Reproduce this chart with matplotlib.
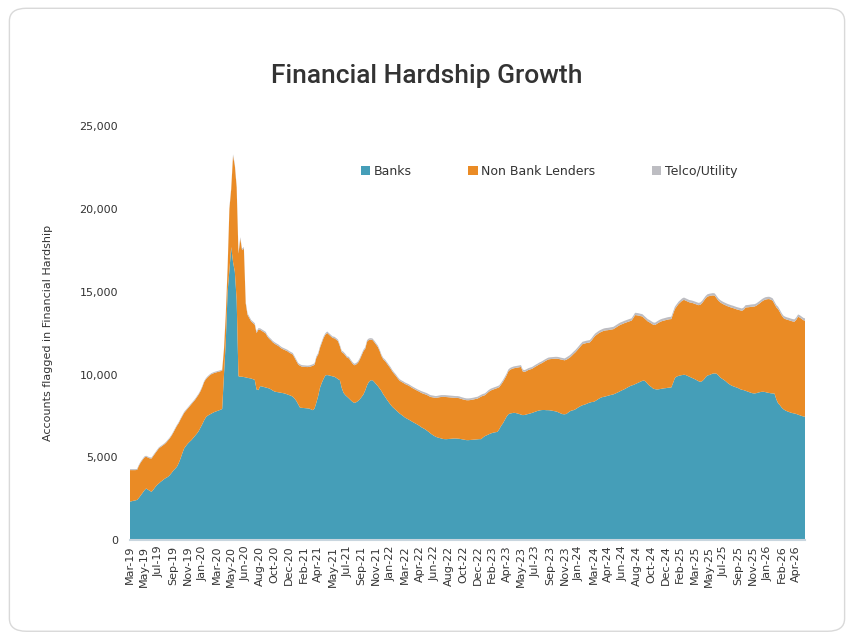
import matplotlib
matplotlib.use("Agg")
import matplotlib.pyplot as plt
from matplotlib.patches import FancyBboxPatch, Patch
import matplotlib.ticker as mticker
import numpy as np

# weekly values, Mar-2019 .. May-2026
banks = [
    2330, 2350, 2380, 2400, 2430, 2550, 2700, 2850, 3000, 3120,
    3050, 2980, 2920, 3050, 3200, 3330, 3420, 3520, 3600, 3690,
    3760, 3820, 3920, 4050, 4200, 4310, 4430, 4650, 4930, 5250,
    5540, 5690, 5830, 5940, 6040, 6170, 6300, 6430, 6580, 6790,
    7000, 7230, 7420, 7520, 7580, 7640, 7700, 7750, 7790, 7830,
    7870, 7920, 10000, 12000, 15000, 16300, 17700, 16800, 16200, 14500,
    9900, 9870, 9870, 9850, 9830, 9800, 9780, 9760, 9720, 9680,
    9100, 9060, 9300, 9280, 9250, 9220, 9190, 9160, 9100, 9030,
    8970, 8950, 8930, 8910, 8890, 8870, 8840, 8800, 8760, 8720,
    8660, 8550, 8400, 8200, 8000, 7990, 7980, 7970, 7960, 7950,
    7900, 7850, 7950, 8300, 8700, 9200, 9500, 9750, 9950, 9970,
    9950, 9920, 9890, 9870, 9800, 9720, 9660, 9200, 8900, 8760,
    8660, 8560, 8450, 8350, 8290, 8330, 8400, 8500, 8650, 8800,
    9050, 9350, 9560, 9650, 9660, 9550, 9420, 9300, 9150, 9000,
    8800, 8650, 8480, 8330, 8180, 8050, 7950, 7850, 7750, 7650,
    7570, 7490, 7400, 7340, 7280, 7220, 7150, 7090, 7030, 6970,
    6900, 6820, 6760, 6700, 6620, 6540, 6450, 6370, 6300, 6240,
    6200, 6170, 6140, 6110, 6100, 6100, 6110, 6120, 6130, 6140,
    6140, 6130, 6120, 6100, 6080, 6060, 6040, 6040, 6050, 6060,
    6070, 6080, 6090, 6100, 6100, 6200, 6280, 6330, 6380, 6430,
    6470, 6500, 6520, 6540, 6700, 6900, 7050, 7250, 7450, 7600,
    7650, 7670, 7690, 7680, 7650, 7620, 7580, 7550, 7560, 7590,
    7620, 7650, 7680, 7720, 7760, 7800, 7830, 7850, 7860, 7860,
    7850, 7850, 7840, 7820, 7800, 7780, 7750, 7700, 7650, 7610,
    7600, 7620, 7700, 7780, 7830, 7850, 7900, 7970, 8040, 8100,
    8150, 8180, 8220, 8270, 8310, 8340, 8350, 8400, 8470, 8540,
    8600, 8640, 8660, 8690, 8720, 8750, 8780, 8800, 8850, 8900,
    8950, 9010, 9060, 9110, 9170, 9230, 9290, 9340, 9370, 9420,
    9470, 9520, 9570, 9620, 9640, 9560, 9430, 9320, 9250, 9150,
    9120, 9100, 9110, 9130, 9150, 9170, 9180, 9200, 9210, 9220,
    9500, 9800, 9880, 9920, 9950, 9970, 9990, 9970, 9920, 9870,
    9820, 9770, 9720, 9660, 9600, 9560, 9600, 9700, 9850, 9950,
    9970, 10020, 10060, 10070, 10050, 9950, 9830, 9750, 9680, 9600,
    9500, 9420, 9350, 9300, 9260, 9220, 9180, 9120, 9080, 9060,
    9020, 8980, 8940, 8900, 8870, 8860, 8880, 8910, 8940, 8960,
    8960, 8940, 8910, 8890, 8870, 8860, 8850, 8500, 8260, 8150,
    8000, 7900, 7830, 7780, 7740, 7700, 7670, 7650, 7620, 7580,
    7540, 7500, 7470, 7450,
]

non_bank = [
    1900, 1880, 1850, 1830, 1810, 1940, 1990, 1990, 1990, 1920,
    1940, 1960, 2010, 2040, 2040, 2060, 2120, 2100, 2100, 2090,
    2120, 2190, 2220, 2250, 2290, 2390, 2470, 2420, 2360, 2240,
    2150, 2130, 2120, 2140, 2170, 2170, 2170, 2200, 2210, 2200,
    2240, 2310, 2300, 2320, 2360, 2380, 2370, 2360, 2350, 2340,
    2330, 2320, 1510, 1610, 1410, 3710, 3510, 6410, 6410, 6810,
    7410, 8340, 7640, 7760, 4480, 3810, 3630, 3450, 3390, 3330,
    3410, 3650, 3400, 3350, 3310, 3270, 3100, 3000, 2960, 2910,
    2890, 2840, 2800, 2730, 2670, 2640, 2620, 2610, 2570, 2550,
    2550, 2460, 2410, 2410, 2530, 2490, 2490, 2490, 2490, 2510,
    2590, 2680, 2640, 2710, 2510, 2410, 2410, 2460, 2460, 2540,
    2460, 2390, 2320, 2320, 2310, 2290, 2050, 2160, 2380, 2400,
    2350, 2420, 2360, 2310, 2270, 2280, 2310, 2410, 2510, 2610,
    2510, 2640, 2530, 2460, 2430, 2410, 2390, 2360, 2260, 2110,
    2110, 2160, 2180, 2180, 2180, 2130, 2090, 2060, 2010, 1980,
    1990, 2010, 2030, 2040, 2050, 2040, 2040, 2040, 2040, 2040,
    2060, 2070, 2090, 2110, 2150, 2170, 2200, 2260, 2310, 2350,
    2410, 2460, 2510, 2540, 2550, 2540, 2520, 2500, 2480, 2460,
    2450, 2460, 2450, 2430, 2420, 2410, 2410, 2410, 2410, 2420,
    2430, 2450, 2460, 2510, 2570, 2520, 2470, 2510, 2560, 2590,
    2600, 2610, 2630, 2650, 2540, 2490, 2500, 2490, 2490, 2590,
    2640, 2670, 2690, 2720, 2770, 2820, 2880, 2640, 2600, 2620,
    2650, 2660, 2660, 2690, 2720, 2740, 2780, 2810, 2860, 2930,
    3000, 3060, 3090, 3120, 3150, 3180, 3210, 3240, 3260, 3280,
    3260, 3270, 3260, 3250, 3300, 3390, 3440, 3490, 3550, 3620,
    3690, 3690, 3680, 3650, 3630, 3720, 3860, 3940, 3950, 3960,
    3960, 3970, 3990, 3980, 3960, 3950, 3940, 3940, 3960, 3980,
    4000, 4000, 3990, 3990, 3970, 3950, 3930, 3910, 4040, 4170,
    4110, 4040, 3960, 3890, 3770, 3750, 3780, 3830, 3830, 3860,
    3870, 3960, 4020, 4060, 4080, 4090, 4110, 4120, 4130, 4130,
    4160, 4160, 4230, 4340, 4410, 4490, 4520, 4490, 4490, 4490,
    4520, 4540, 4550, 4570, 4590, 4650, 4710, 4760, 4760, 4760,
    4770, 4740, 4720, 4690, 4560, 4510, 4530, 4540, 4550, 4580,
    4630, 4670, 4700, 4720, 4720, 4720, 4730, 4760, 4770, 4850,
    5030, 5080, 5130, 5190, 5230, 5250, 5280, 5330, 5380, 5450,
    5520, 5590, 5640, 5670, 5650, 5600, 5410, 5560, 5690, 5610,
    5560, 5510, 5520, 5530, 5540, 5540, 5540, 5540, 5690, 5910,
    5900, 5860, 5810, 5800,
]

telco = [
    60, 60, 60, 60, 60, 60, 60, 60, 60, 60,
    60, 60, 60, 60, 60, 60, 60, 60, 60, 60,
    60, 60, 60, 60, 60, 60, 60, 60, 60, 60,
    60, 60, 60, 60, 60, 60, 60, 60, 60, 60,
    60, 60, 60, 60, 60, 60, 60, 60, 60, 60,
    60, 60, 90, 90, 90, 90, 90, 90, 90, 90,
    90, 90, 90, 90, 90, 90, 90, 90, 90, 90,
    90, 90, 90, 90, 90, 90, 90, 90, 90, 90,
    90, 90, 90, 90, 90, 90, 90, 90, 90, 90,
    90, 90, 90, 90, 90, 90, 90, 90, 90, 90,
    90, 90, 90, 90, 90, 90, 90, 90, 90, 90,
    90, 90, 90, 90, 90, 90, 90, 90, 90, 90,
    90, 90, 90, 90, 90, 90, 90, 90, 90, 90,
    90, 90, 90, 90, 90, 90, 90, 90, 90, 90,
    90, 90, 90, 90, 90, 90, 90, 90, 90, 90,
    90, 90, 90, 90, 90, 90, 90, 90, 90, 90,
    90, 110, 110, 110, 110, 110, 110, 110, 110, 110,
    110, 110, 110, 110, 110, 110, 110, 110, 110, 110,
    110, 110, 110, 110, 110, 110, 110, 110, 110, 110,
    110, 110, 110, 110, 110, 110, 110, 110, 110, 110,
    110, 110, 110, 110, 110, 110, 110, 110, 110, 110,
    110, 110, 110, 110, 110, 110, 110, 110, 110, 110,
    110, 110, 110, 110, 110, 110, 110, 110, 110, 110,
    110, 110, 110, 110, 110, 110, 110, 110, 110, 110,
    110, 140, 140, 140, 140, 140, 140, 140, 140, 140,
    140, 140, 140, 140, 140, 140, 140, 140, 140, 140,
    140, 140, 140, 140, 140, 140, 140, 140, 140, 140,
    140, 140, 140, 140, 140, 140, 140, 140, 140, 140,
    140, 140, 140, 140, 140, 140, 140, 140, 140, 140,
    140, 140, 140, 140, 140, 140, 140, 140, 140, 140,
    140, 140, 140, 140, 140, 140, 140, 140, 140, 140,
    140, 140, 140, 140, 140, 140, 140, 140, 140, 140,
    140, 140, 140, 140, 140, 140, 140, 140, 140, 140,
    140, 140, 140, 140, 140, 140, 140, 140, 140, 140,
    140, 140, 140, 140, 140, 140, 140, 140, 140, 140,
    140, 140, 140, 140, 140, 140, 140, 140, 140, 140,
    140, 140, 140, 140, 140, 140, 140, 140, 140, 140,
    140, 140, 140, 140,
]

tick_labels = [
    "Mar-19", "May-19", "Jul-19", "Sep-19", "Nov-19", "Jan-20", "Mar-20",
    "May-20", "Jun-20", "Aug-20", "Oct-20", "Dec-20", "Feb-21", "Apr-21",
    "May-21", "Jul-21", "Sep-21", "Nov-21", "Jan-22", "Mar-22", "Apr-22",
    "Jun-22", "Aug-22", "Oct-22", "Dec-22", "Feb-23", "Apr-23", "May-23",
    "Jul-23", "Sep-23", "Nov-23", "Jan-24", "Mar-24", "Apr-24", "Jun-24",
    "Aug-24", "Oct-24", "Dec-24", "Feb-25", "Mar-25", "May-25", "Jul-25",
    "Sep-25", "Nov-25", "Jan-26", "Feb-26", "Apr-26",
]

series_names = ["Banks", "Non Bank Lenders", "Telco/Utility"]
colors = ["#459EB8", "#EA8B25", "#BDBDC2"]
text_col = "#333333"

x = np.arange(len(banks))

fig = plt.figure(figsize=(8.54, 6.37), dpi=100)
fig.patches.append(FancyBboxPatch((0.011, 0.009), 0.978, 0.978,
                                  boxstyle="round,pad=0,rounding_size=0.02",
                                  transform=fig.transFigure, fill=False,
                                  edgecolor="#d9d9d9", linewidth=1))

ax = fig.add_axes([0.152, 0.152, 0.791, 0.650])
ax.stackplot(x, banks, non_bank, telco, colors=colors, linewidth=0)

ax.set_xlim(0, len(banks) - 1)
ax.set_ylim(0, 25000)
ax.yaxis.set_major_locator(mticker.MultipleLocator(5000))
ax.yaxis.set_major_formatter(mticker.StrMethodFormatter("{x:,.0f}"))
ax.set_xticks(np.arange(0, 8 * len(tick_labels), 8))
ax.set_xticklabels(tick_labels, rotation=90)
ax.tick_params(axis="both", length=0, labelsize=8, colors=text_col)
ax.tick_params(axis="y", pad=8.5)
ax.tick_params(axis="x", pad=4)

for s in ["top", "right", "left"]:
    ax.spines[s].set_visible(False)
ax.spines["bottom"].set_color("#c9d6df")
ax.spines["bottom"].set_linewidth(1.5)

ax.set_ylabel("Accounts flagged in Financial Hardship", fontsize=8,
              color=text_col, labelpad=19)

fig.text(0.5, 0.88, "Financial Hardship Growth", ha="center", va="center",
         fontsize=19, fontfamily="Roboto", fontweight="medium", color=text_col)

handles = [Patch(facecolor=c, edgecolor="none") for c in colors]
fig.legend(handles, series_names, loc="center", ncol=3,
           bbox_to_anchor=(0.643, 0.731), frameon=False, fontsize=9,
           handlelength=0.75, handleheight=0.75, handletextpad=0.3,
           columnspacing=4.5, labelcolor=text_col)

fig.savefig("out.png", dpi=100)
